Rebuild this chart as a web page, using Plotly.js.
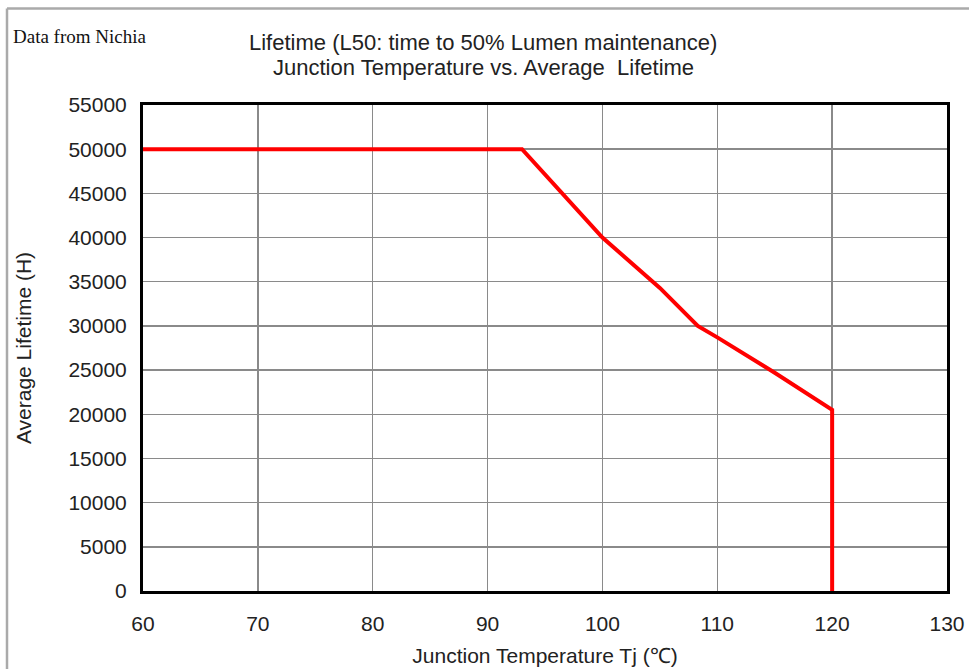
<!DOCTYPE html>
<html><head><meta charset="utf-8">
<script src="https://cdn.plot.ly/plotly-3.0.1.min.js"></script>
<style>html,body{margin:0;padding:0;background:#fff;}#chart{width:969px;height:669px;}</style>
</head><body><div id="chart"></div>
<script>
// Junction temperature (°C)
const junctionTemp = [60, 93, 100, 105, 108.3, 110, 115, 120, 120];
// Average lifetime (hours)
const avgLifetime = [50000, 50000, 40000, 34300, 30000, 28700, 24700, 20500, 0];
const xTicks = [60, 70, 80, 90, 100, 110, 120, 130];
const yTicks = [0, 5000, 10000, 15000, 20000, 25000, 30000, 35000, 40000, 45000, 50000, 55000];

const L = 143, R = 947, T = 105, B = 591, W = 969, H = 669;
const px = x => (x - L) / (R - L);
const py = y => (B - y) / (B - T);

const trace = {
  x: junctionTemp, y: avgLifetime, type: 'scatter', mode: 'lines',
  line: {color: '#ff0000', width: 4}, hoverinfo: 'skip', cliponaxis: false
};
const FONT = 'Liberation Sans, Arial, sans-serif';
const tickFont = {family: FONT, size: 21, color: '#222'};
const layout = {
  width: W, height: H,
  margin: {l: L, r: W - R, t: T, b: H - B, pad: 0},
  paper_bgcolor: '#fff', plot_bgcolor: '#fff',
  showlegend: false,
  xaxis: {
    range: [60, 130], tickvals: xTicks, ticktext: xTicks.map(String),
    showgrid: true, gridcolor: '#8a8a8a', gridwidth: 1.5,
    zeroline: false, showline: true, mirror: true, linecolor: '#000', linewidth: 3,
    ticks: '', ticklen: 0, tickfont: tickFont, ticklabelstandoff: 12,
    title: {text: 'Junction Temperature Tj (℃)', font: {family: FONT, size: 21, color: '#222'}, standoff: 15}
  },
  yaxis: {
    range: [0, 55000], tickvals: yTicks, ticktext: yTicks.map(String),
    showgrid: true, gridcolor: '#8a8a8a', gridwidth: 1.5,
    zeroline: false, showline: true, mirror: true, linecolor: '#000', linewidth: 3,
    ticks: '', ticklen: 0, tickfont: tickFont, ticklabelstandoff: 9,
    title: {text: 'Average Lifetime (H)', font: {family: FONT, size: 21, color: '#222'}, standoff: 32}
  },
  annotations: [
    {xref: 'paper', yref: 'paper', x: px(483), y: py(42), xanchor: 'center', yanchor: 'middle', showarrow: false,
     text: 'Lifetime (L50: time to 50% Lumen maintenance)', font: {family: FONT, size: 22, color: '#222'}},
    {xref: 'paper', yref: 'paper', x: px(483), y: py(67), xanchor: 'center', yanchor: 'middle', showarrow: false,
     text: 'Junction Temperature vs. Average  Lifetime', font: {family: FONT, size: 22, color: '#222'}},
    {xref: 'paper', yref: 'paper', x: px(11), y: py(37), xanchor: 'left', yanchor: 'middle', showarrow: false,
     text: 'Data from Nichia', font: {family: 'Liberation Serif, Times New Roman, serif', size: 19, color: '#111'}}
  ],
  shapes: [
    {type: 'line', xref: 'paper', yref: 'paper', x0: px(7), x1: px(975), y0: py(8.5), y1: py(8.5), line: {color: '#aaaaaa', width: 2.5}},
    {type: 'line', xref: 'paper', yref: 'paper', x0: px(7), x1: px(7), y0: py(8.5), y1: py(680), line: {color: '#aaaaaa', width: 2.5}}
  ]
};
Plotly.newPlot('chart', [trace], layout, {staticPlot: true, displayModeBar: false});
</script></body></html>
